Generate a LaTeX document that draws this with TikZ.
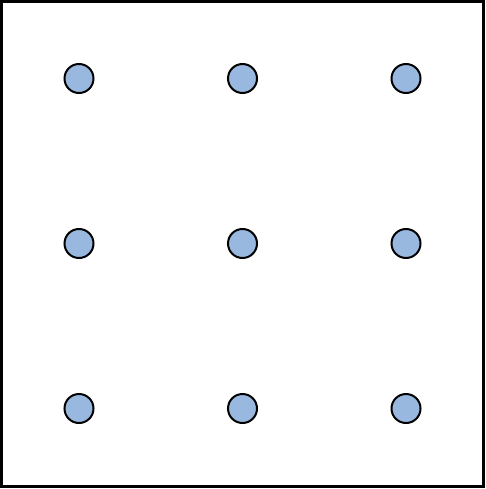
\documentclass[tikz,border=0pt]{standalone}
\definecolor{dotfill}{RGB}{153,184,224}
\begin{document}
\begin{tikzpicture}[x=1pt,y=-1pt,
  dot/.style={circle,draw=black,fill=dotfill,line width=2pt,minimum size=29pt,inner sep=0pt},
  frame/.style={draw=black,line width=3pt}]
\useasboundingbox (0,0) rectangle (486,489);
\draw[frame] (1.5,1.5) rectangle (483.5,486.5);
\foreach \i/\x in {1/79,2/242.5,3/406}{
  \foreach \j/\y in {1/78.5,2/243.5,3/408.5}{
    \node[dot] (d\i\j) at (\x,\y) {};
  }
}
\end{tikzpicture}
\end{document}
